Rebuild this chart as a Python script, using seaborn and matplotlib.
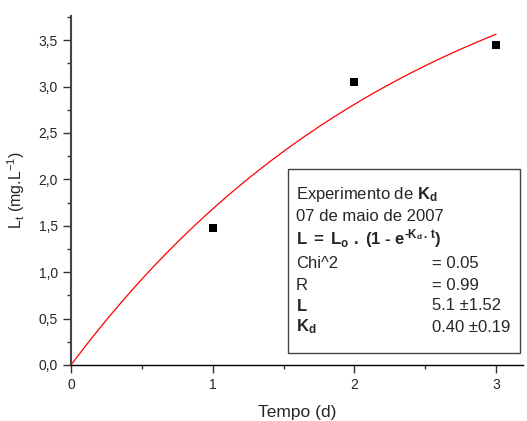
import numpy as np
import pandas as pd
import matplotlib
matplotlib.use("Agg")
import matplotlib.pyplot as plt
from matplotlib.ticker import MultipleLocator, FixedLocator, FixedFormatter
import seaborn as sns

# measured points
tempo = [1, 2, 3]
lt = [1.48, 3.05, 3.45]

# fit parameters (as printed in the box)
L0 = 5.1
Kd = 0.40
fit_t = np.linspace(0, 3, 200)
fit_l = L0 * (1 - np.exp(-Kd * fit_t))

x_ticks = [0, 1, 2, 3]
y_ticks = [0.0, 0.5, 1.0, 1.5, 2.0, 2.5, 3.0, 3.5]
y_labels = ["0,0", "0,5", "1,0", "1,5", "2,0", "2,5", "3,0", "3,5"]

sns.set_theme(style="ticks")
plt.rcParams['font.family'] = ['Liberation Sans', 'DejaVu Sans']
plt.rcParams['mathtext.fontset'] = 'custom'
plt.rcParams['mathtext.rm'] = 'Liberation Sans'
plt.rcParams['mathtext.it'] = 'Liberation Sans'
plt.rcParams['mathtext.bf'] = 'Liberation Sans:bold'

fig = plt.figure(figsize=(5.27, 4.21), dpi=100)
ax = fig.add_axes([71/527, 56/421, 452/527, 349/421])

pts = pd.DataFrame({"t": tempo, "L": lt})
fit = pd.DataFrame({"t": fit_t, "L": fit_l})

sns.lineplot(data=fit, x="t", y="L", color="red", lw=0.9, ax=ax, zorder=2)
sns.scatterplot(data=pts, x="t", y="L", marker="s", s=40, color="black",
                edgecolor="black", linewidth=0, ax=ax, zorder=3)

ax.set_xlim(0, 3.19)
ax.set_ylim(0, 3.76)
ax.xaxis.set_major_locator(FixedLocator(x_ticks))
ax.xaxis.set_minor_locator(MultipleLocator(0.5))
ax.yaxis.set_major_locator(FixedLocator(y_ticks))
ax.yaxis.set_major_formatter(FixedFormatter(y_labels))
ax.yaxis.set_minor_locator(MultipleLocator(0.25))
ax.tick_params(which="major", length=5.5, width=1, labelsize=10, color="#333333", pad=4)
ax.tick_params(which="minor", length=3, width=1, color="#333333")

for s in ["top", "right"]:
    ax.spines[s].set_visible(False)
ax.spines["left"].set_color("#444444")
ax.spines["left"].set_linewidth(1.5)
ax.spines["bottom"].set_color("black")
ax.spines["bottom"].set_linewidth(1.0)

ax.set_xlabel("Tempo (d)", fontsize=12.5, labelpad=9)
ax.set_ylabel("L$_t$ (mg.L$^{-1}$)", fontsize=11.5, labelpad=8)

# fit result box
box = plt.Rectangle((288/527, 68/421), 232/527, 184/421, transform=fig.transFigure,
                    fill=False, edgecolor="#444444", lw=1.0, zorder=5)
fig.patches.append(box)

x1 = 296/527
x2 = 432/527
fs = 12
rows_y = [194, 216, 239, 264, 285, 306, 327]
fig.text(x1, 1 - rows_y[0]/421, r"Experimento de $\mathbf{K_d}$", fontsize=fs, va="center")
fig.text(x1, 1 - rows_y[1]/421, "07 de maio de 2007", fontsize=fs, va="center")
fig.text(x1, 1 - rows_y[2]/421,
         "$\\mathbf{L\\ {=}\\ L_o\\ .\\ (1\\ \u2010\\ e^{\u2010K_d\\,.\\,t})}$",
         fontsize=fs, va="center")
fig.text(x1, 1 - rows_y[3]/421, "Chi^2", fontsize=fs, va="center")
fig.text(x2, 1 - rows_y[3]/421, "= 0.05", fontsize=fs, va="center")
fig.text(x1, 1 - rows_y[4]/421, "R", fontsize=fs, va="center")
fig.text(x2, 1 - rows_y[4]/421, "= 0.99", fontsize=fs, va="center")
fig.text(x1, 1 - rows_y[5]/421, r"$\mathbf{L}$", fontsize=fs, va="center")
fig.text(x2, 1 - rows_y[5]/421, "5.1 \u00b11.52", fontsize=fs, va="center")
fig.text(x1, 1 - rows_y[6]/421, r"$\mathbf{K_d}$", fontsize=fs, va="center")
fig.text(x2, 1 - rows_y[6]/421, "0.40 \u00b10.19", fontsize=fs, va="center")

fig.savefig("out.png", dpi=100)
